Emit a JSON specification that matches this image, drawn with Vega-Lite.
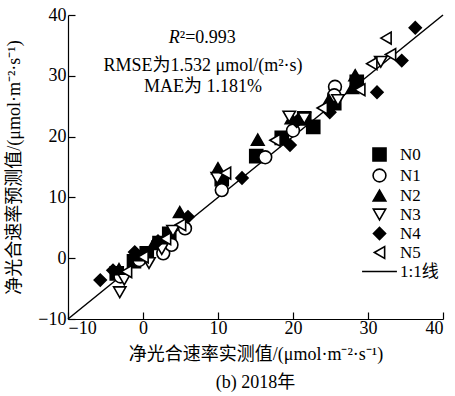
{
  "$schema": "https://vega.github.io/schema/vega-lite/v6.json",
  "width": 375,
  "height": 304,
  "autosize": {"type": "none"},
  "padding": {"left": 68, "top": 15, "right": 12, "bottom": 77},
  "background": "white",
  "title": {"text": "(b) 2018年", "orient": "bottom", "font": "Times New Roman, Liberation Serif, Noto Sans CJK SC, serif", "fontSize": 18, "fontWeight": "normal", "color": "black", "offset": 11},
  "config": {
    "view": {"stroke": null},
    "axis": {
      "grid": false,
      "domainColor": "black",
      "domainWidth": 1.2,
      "tickColor": "black",
      "tickWidth": 1.2,
      "tickSize": -7,
      "labelFont": "Times New Roman, Liberation Serif, serif",
      "labelFontSize": 18,
      "labelColor": "black",
      "titleFont": "Times New Roman, Liberation Serif, Noto Sans CJK SC, serif",
      "titleFontSize": 18,
      "titleFontWeight": "normal",
      "titleColor": "black"
    }
  },
  "datasets": {
    "pts": [
      {"series": "N0", "measured": -3.5, "predicted": -2.5},
      {"series": "N0", "measured": -1.2, "predicted": -0.5},
      {"series": "N0", "measured": 0.5, "predicted": 0.8},
      {"series": "N0", "measured": 2.2, "predicted": 2.5},
      {"series": "N0", "measured": 3.5, "predicted": 4.0},
      {"series": "N0", "measured": 10.5, "predicted": 13.0},
      {"series": "N0", "measured": 15.1, "predicted": 16.8},
      {"series": "N0", "measured": 18.5, "predicted": 19.8},
      {"series": "N0", "measured": 21.5, "predicted": 23.0},
      {"series": "N0", "measured": 22.7, "predicted": 21.6},
      {"series": "N0", "measured": 25.5, "predicted": 25.5},
      {"series": "N0", "measured": 28.5, "predicted": 29.0},
      {"series": "N1", "measured": -3.0, "predicted": -3.0},
      {"series": "N1", "measured": -0.5, "predicted": -0.3},
      {"series": "N1", "measured": 2.7, "predicted": 0.8},
      {"series": "N1", "measured": 3.8, "predicted": 2.2},
      {"series": "N1", "measured": 5.6, "predicted": 4.9},
      {"series": "N1", "measured": 10.5, "predicted": 11.2},
      {"series": "N1", "measured": 16.3, "predicted": 16.6},
      {"series": "N1", "measured": 20.0, "predicted": 21.0},
      {"series": "N1", "measured": 25.6, "predicted": 28.2},
      {"series": "N1", "measured": 25.5, "predicted": 26.8},
      {"series": "N2", "measured": -3.2, "predicted": -1.8},
      {"series": "N2", "measured": -0.8, "predicted": 0.5},
      {"series": "N2", "measured": 1.5, "predicted": 2.5},
      {"series": "N2", "measured": 4.9, "predicted": 7.6},
      {"series": "N2", "measured": 10.0, "predicted": 14.8},
      {"series": "N2", "measured": 15.3, "predicted": 19.5},
      {"series": "N2", "measured": 19.8, "predicted": 23.0},
      {"series": "N2", "measured": 24.8, "predicted": 26.0},
      {"series": "N2", "measured": 28.3, "predicted": 30.1},
      {"series": "N2", "measured": 27.9, "predicted": 28.0},
      {"series": "N3", "measured": -3.1, "predicted": -5.6},
      {"series": "N3", "measured": -2.5, "predicted": -3.5},
      {"series": "N3", "measured": 0.8, "predicted": -0.8},
      {"series": "N3", "measured": 2.5, "predicted": 1.5},
      {"series": "N3", "measured": 4.0, "predicted": 4.5},
      {"series": "N3", "measured": 9.9, "predicted": 13.2},
      {"series": "N3", "measured": 19.5, "predicted": 23.3},
      {"series": "N3", "measured": 21.5, "predicted": 23.0},
      {"series": "N3", "measured": 26.0, "predicted": 26.0},
      {"series": "N3", "measured": 31.7, "predicted": 32.3},
      {"series": "N4", "measured": -5.7, "predicted": -3.6},
      {"series": "N4", "measured": -4.0, "predicted": -2.0},
      {"series": "N4", "measured": -1.1, "predicted": 1.0},
      {"series": "N4", "measured": 2.0, "predicted": 2.8},
      {"series": "N4", "measured": 6.0, "predicted": 6.8},
      {"series": "N4", "measured": 13.2, "predicted": 13.2},
      {"series": "N4", "measured": 19.6, "predicted": 18.6},
      {"series": "N4", "measured": 20.5, "predicted": 22.5},
      {"series": "N4", "measured": 24.9, "predicted": 24.0},
      {"series": "N4", "measured": 31.2, "predicted": 27.3},
      {"series": "N4", "measured": 34.5, "predicted": 32.5},
      {"series": "N4", "measured": 36.3, "predicted": 37.9},
      {"series": "N5", "measured": -2.2, "predicted": -2.2},
      {"series": "N5", "measured": 0.0, "predicted": 0.2},
      {"series": "N5", "measured": 3.0, "predicted": 3.2},
      {"series": "N5", "measured": 5.0, "predicted": 5.5},
      {"series": "N5", "measured": 11.0, "predicted": 14.0},
      {"series": "N5", "measured": 17.6, "predicted": 19.4},
      {"series": "N5", "measured": 23.9, "predicted": 24.7},
      {"series": "N5", "measured": 28.9, "predicted": 27.7},
      {"series": "N5", "measured": 30.5, "predicted": 32.0},
      {"series": "N5", "measured": 32.4, "predicted": 36.2},
      {"series": "N5", "measured": 33.0, "predicted": 33.5}
    ],
    "oneline": [
      {"measured": -10, "predicted": -10},
      {"measured": 40, "predicted": 40}
    ],
    "note": [{}]
  },
  "layer": [
    {
      "data": {"name": "oneline"},
      "mark": {"type": "line", "color": "black", "strokeWidth": 1.5},
      "encoding": {
        "x": {"field": "measured", "type": "quantitative", "scale": {"domain": [-10, 40], "nice": false},
              "axis": {"values": [-10, 0, 10, 20, 30, 40], "title": "净光合速率实测值/(μmol·m⁻²·s⁻¹)", "labelPadding": 7, "titlePadding": 8}},
        "y": {"field": "predicted", "type": "quantitative", "scale": {"domain": [-10, 40], "nice": false},
              "axis": {"values": [-10, 0, 10, 20, 30, 40], "title": "净光合速率预测值/(μmol·m⁻²·s⁻¹)", "labelPadding": 9, "titlePadding": 14}}
      }
    },
    {
      "data": {"name": "pts"},
      "mark": {"type": "point", "stroke": "black", "strokeWidth": 1.6, "opacity": 1, "fillOpacity": 1},
      "encoding": {
        "x": {"field": "measured", "type": "quantitative"},
        "y": {"field": "predicted", "type": "quantitative"},
        "shape": {"field": "series", "type": "nominal",
          "scale": {"domain": ["N0", "N1", "N2", "N3", "N4", "N5", "1:1线"],
                    "range": ["square", "circle", "triangle-up", "triangle-down", "diamond", "triangle-left", "M-3,0H3"]},
          "legend": {"title": null, "orient": "none", "legendX": 303, "legendY": 131,
                     "labelFont": "Times New Roman, Liberation Serif, Noto Sans CJK SC, serif", "labelFontSize": 17, "labelColor": "black",
                     "symbolStrokeColor": "black", "symbolStrokeWidth": 1.6, "labelOffset": 12, "rowPadding": 0, "symbolOpacity": 1}},
        "fill": {"field": "series", "type": "nominal",
          "scale": {"domain": ["N0", "N1", "N2", "N3", "N4", "N5", "1:1线"],
                    "range": ["black", "white", "black", "white", "black", "white", "black"]},
          "legend": {"title": null}},
        "size": {"field": "series", "type": "nominal",
          "scale": {"domain": ["N0", "N1", "N2", "N3", "N4", "N5", "1:1线"],
                    "range": [170, 135, 240, 220, 289, 220, 200]},
          "legend": {"title": null}}
      }
    },
    {
      "data": {"name": "note"},
      "mark": {"type": "text", "text": "R", "font": "Times New Roman, Liberation Serif, serif", "fontStyle": "italic", "fontSize": 18, "color": "black", "align": "right"},
      "encoding": {"x": {"datum": 4.9}, "y": {"datum": 36.2}}
    },
    {
      "data": {"name": "note"},
      "mark": {"type": "text", "text": "²=0.993", "font": "Times New Roman, Liberation Serif, serif", "fontSize": 18, "color": "black", "align": "left"},
      "encoding": {"x": {"datum": 4.9}, "y": {"datum": 36.2}}
    },
    {
      "data": {"name": "note"},
      "mark": {"type": "text", "text": "RMSE为1.532 μmol/(m²·s)", "font": "Times New Roman, Liberation Serif, Noto Sans CJK SC, serif", "fontSize": 18, "color": "black"},
      "encoding": {"x": {"datum": 8}, "y": {"datum": 31.6}}
    },
    {
      "data": {"name": "note"},
      "mark": {"type": "text", "text": "MAE为 1.181%", "font": "Times New Roman, Liberation Serif, Noto Sans CJK SC, serif", "fontSize": 18, "color": "black"},
      "encoding": {"x": {"datum": 8}, "y": {"datum": 28.1}}
    }
  ]
}
